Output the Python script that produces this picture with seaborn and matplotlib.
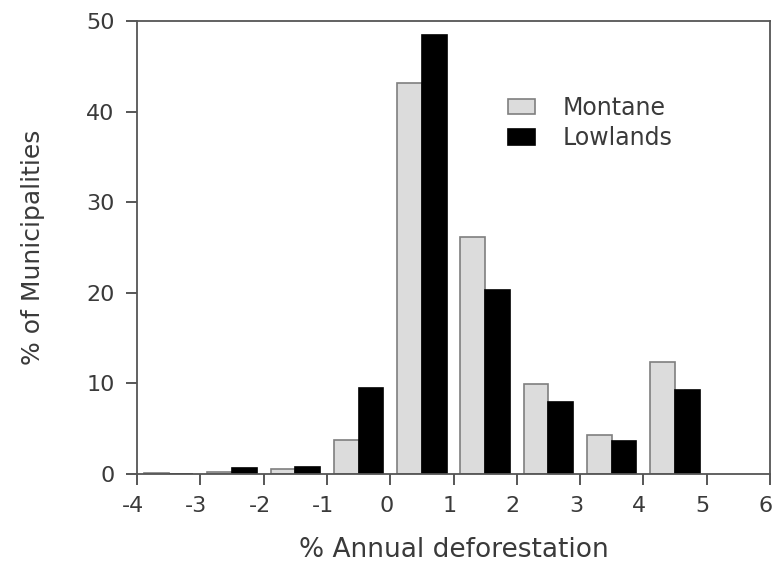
import numpy as np
import pandas as pd
import matplotlib
matplotlib.use('Agg')
import matplotlib.pyplot as plt
import matplotlib.transforms as mtransforms
import seaborn as sns

sns.set_style('white')
plt.rcParams['font.family'] = ['DejaVu Sans']
plt.rcParams['axes.unicode_minus'] = False

# bin centres of the 1% wide classes
bins = [-3.5, -2.5, -1.5, -0.5, 0.5, 1.5, 2.5, 3.5, 4.5]
montane = [0.15, 0.2, 0.6, 3.8, 43.2, 26.2, 9.9, 4.3, 12.4]
lowlands = [0.0, 0.65, 0.75, 9.5, 48.5, 20.3, 7.9, 3.6, 9.3]
groups = ['Montane', 'Lowlands']

df = pd.DataFrame({'bin': bins * 2,
                   'pct': montane + lowlands,
                   'Region': ['Montane'] * len(bins) + ['Lowlands'] * len(bins)})

colors = ['#dcdcdc', '#000000']
edges = ['#7f7f7f', '#000000']
txtc = '#3a3a3a'

fig = plt.figure(figsize=(7.75, 5.7), dpi=100)
ax = fig.add_axes([0.1768, 0.1684, 0.8168, 0.7947])

sns.barplot(data=df, x='bin', y='pct', hue='Region', hue_order=groups,
            palette=colors, native_scale=True, width=0.78, gap=0,
            dodge=True, ax=ax, legend=True)

for cont, ec in zip(ax.containers, edges):
    for p in cont:
        p.set_edgecolor(ec)
        p.set_linewidth(1.2)

ax.set_xlim(-4, 6)
ax.set_ylim(0, 50)
ax.set_xticks(range(-4, 7))
ax.set_yticks(range(0, 51, 10))
ax.set_xlabel('% Annual deforestation', fontsize=19, labelpad=15, color=txtc)
ax.set_ylabel('% of Municipalities', fontsize=18, labelpad=30, color=txtc)
ax.tick_params(axis='both', which='major', direction='out', length=8, width=1.2,
               labelsize=16, colors=txtc, bottom=True, left=True, pad=8)
ax.tick_params(axis='x', pad=8)
shift = mtransforms.ScaledTranslation(-4 / 100, 0, fig.dpi_scale_trans)
for lbl in ax.get_xticklabels():
    lbl.set_transform(lbl.get_transform() + shift)
for s in ax.spines.values():
    s.set_color('#555555')
    s.set_linewidth(1.3)

leg = ax.legend(loc='upper left', bbox_to_anchor=(0.586, 0.835), frameon=False,
                fontsize=17, handlelength=1.15, handleheight=0.65, labelspacing=0.28,
                handletextpad=1.15, borderpad=0, borderaxespad=0)
for t in leg.get_texts():
    t.set_color(txtc)
for h, ec in zip(leg.legend_handles, edges):
    h.set_edgecolor(ec)
    h.set_linewidth(1.2)

fig.savefig('out.png', dpi=100)
